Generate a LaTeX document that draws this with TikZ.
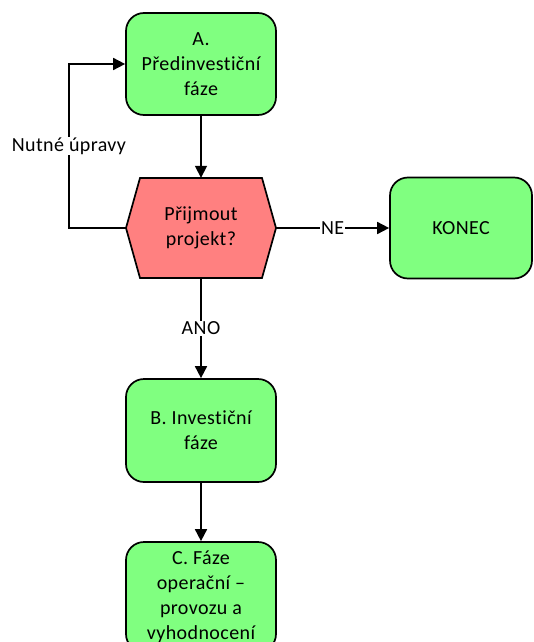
\documentclass[tikz,border=0pt]{standalone}
\usepackage{fontspec}
\setmainfont[Ligatures=NoCommon, LetterSpace=2]{Carlito}
\usetikzlibrary{arrows.meta}
\definecolor{phasegreen}{HTML}{80FF80}
\definecolor{decisionred}{HTML}{FF8080}
\tikzset{
  txt/.style={font=\fontsize{20}{25}\selectfont},
  phase/.style={draw=black, line width=1.7pt, fill=phasegreen, rounded corners=18pt,
    minimum width=150pt, align=center, inner sep=0pt, txt},
  flow/.style={line width=1.7pt, -{Triangle[length=12pt,width=12pt]}},
  lbl/.style={fill=white, inner sep=1pt, txt}
}
\begin{document}
\begin{tikzpicture}[x=1pt,y=-1pt]
\useasboundingbox (0,0) rectangle (533,642);
\clip (0,0) rectangle (533,642);
% phases
\node[phase, minimum height=102pt] (A) at (201,64) {A.\\Předinvestiční\\fáze};
\node[phase, minimum width=142pt, minimum height=101pt] (K) at (461,228) {KONEC};
\node[phase, minimum height=103pt] (B) at (201,430.5) {B. Investiční\\fáze};
\node[phase, minimum height=110pt] (C) at (201,597) {C. Fáze\\operační –\\provozu a\\vyhodnocení};
% decision hexagon
\draw[line width=1.7pt, fill=decisionred, line join=miter]
  (126,228) -- (140,178) -- (262,178) -- (276,228) -- (262,278) -- (140,278) -- cycle;
\node[minimum width=150pt, minimum height=100pt, inner sep=0pt, align=center, txt]
  (D) at (201,228) {Přijmout\\projekt?};
% connectors
\draw[flow] (A.south) -- (D.north);
\draw[flow] (D.south) -- node[lbl] {ANO} (B.north);
\draw[flow] (B.south) -- (C.north);
\draw[flow] (D.east) -- node[lbl] {NE} (K.west);
\coordinate (loopcorner) at (69,228);
\draw[flow] (D.west) -- (loopcorner) |- node[lbl, pos=0.25] {Nutné úpravy} (A.west);
\end{tikzpicture}
\end{document}
